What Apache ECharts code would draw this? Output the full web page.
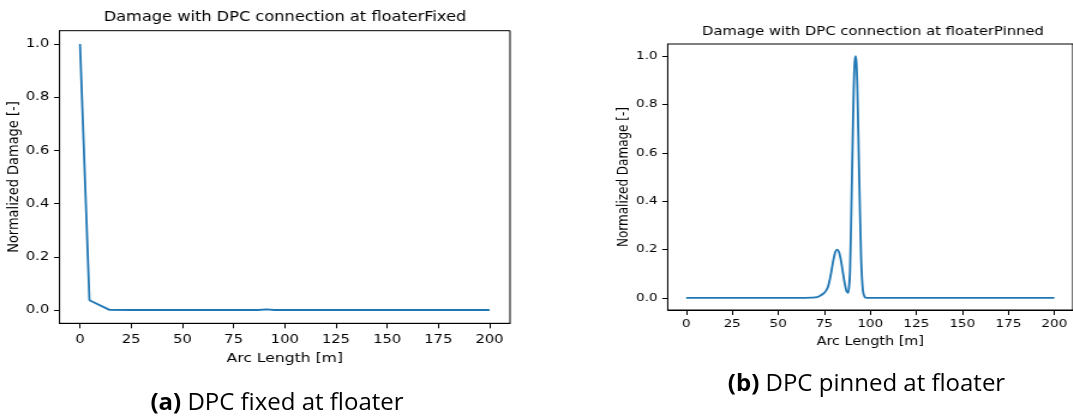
<!DOCTYPE html>
<html>
<head>
<meta charset="utf-8">
<script src="https://cdn.jsdelivr.net/npm/echarts@6/dist/echarts.min.js"></script>
<style>
  html, body { margin: 0; padding: 0; background: #fff; overflow: hidden; }
  #wrap { position: relative; width: 1073px; height: 417px; }
  /* the two panels are drawn on a narrower canvas and widened horizontally */
  #plots { position: absolute; left: 0; top: 0; width: 894.17px; height: 417px;
           transform: scaleX(1.2); transform-origin: 0 0; }
  #captions { position: absolute; left: 0; top: 0; width: 1073px; height: 417px; pointer-events: none; }
</style>
</head>
<body>
<div id="wrap">
  <div id="plots"></div>
  <div id="captions"></div>
</div>
<script>
// Damage along the line, DPC fixed at the floater
const fixedArc    = [0, 4.6, 14.4, 25, 50, 75, 87, 91, 95, 100, 125, 150, 175, 200];
const fixedDamage = [1.0, 0.037, 0.0004, 0, 0, 0, 0, 0.002, 0, 0, 0, 0, 0, 0];

// Damage along the line, DPC pinned at the floater
const pinnedArc = [0, 10, 20, 30, 40, 50, 60, 65, 68,
  70, 71, 72, 73, 74, 75, 76, 77, 78, 79, 80, 81, 82, 83, 84, 85, 86, 87, 88, 89, 90, 91,
  91.5, 92, 92.5, 93, 94, 95, 96, 97, 98, 100,
  110, 120, 130, 140, 150, 160, 170, 180, 190, 200];
const pinnedDamage = [0, 0, 0, 0, 0, 0, 0.0002, 0.0005, 0.001,
  0.002, 0.003, 0.006, 0.01, 0.015, 0.021, 0.03, 0.045, 0.075, 0.115, 0.158, 0.19, 0.2, 0.19, 0.158, 0.112, 0.065, 0.03, 0.02, 0.11, 0.48, 0.86,
  0.97, 1.0, 0.97, 0.86, 0.5, 0.17, 0.03, 0.003, 0.0005, 0,
  0, 0, 0, 0, 0, 0, 0, 0, 0, 0];

// Tick values
const arcTicks = [0, 25, 50, 75, 100, 125, 150, 175, 200];
const damageTicks = [0, 0.2, 0.4, 0.6, 0.8, 1.0];

const titles = ['Damage with DPC connection at floaterFixed', 'Damage with DPC connection at floaterPinned'];
const captions = ['DPC fixed at floater', 'DPC pinned at floater'];
const captionTags = ['(a)', '(b)'];

const SX = 1.2;            // horizontal widening of the plot canvas
const FONT = 'DejaVu Sans';
const LINE = '#1f77b4';

function zip(xs, ys) { return xs.map((x, i) => [x, ys[i]]); }

// panel geometry in screen pixels
const panels = [
  { left: 59.5, top: 30.7, width: 450.5, height: 292.6, fs: 12.3, ts: 13.5, ns: 13,
    titleX: 285, titleY: 17, yGap: 29, xGap: 29, yMargin: 8.5, xMargin: 10.5 },
  { left: 667.7, top: 44, width: 410.3, height: 266, fs: 11.3, ts: 12.3, ns: 12,
    titleX: 872.9, titleY: 32, yGap: 25.5, xGap: 25.5, yMargin: 8.5, xMargin: 9 }
];

const grid = [], xAxis = [], yAxis = [], graphic = [];
panels.forEach((p, i) => {
  grid.push({
    left: p.left / SX, top: p.top, width: p.width / SX, height: p.height,
    show: true, borderColor: '#000', borderWidth: 1, backgroundColor: 'transparent',
    containLabel: false
  });
  xAxis.push({
    type: 'value', gridIndex: i, min: -10, max: 210, position: 'bottom',
    axisLine: { show: true, onZero: false, lineStyle: { color: '#000', width: 1 } },
    axisTick: { show: true, inside: false, length: 5, customValues: arcTicks, lineStyle: { color: '#000', width: 1 } },
    axisLabel: { customValues: arcTicks, color: '#000', fontFamily: FONT, fontSize: p.fs, margin: p.xMargin,
                 formatter: v => String(v) },
    splitLine: { show: false },
    name: 'Arc Length [m]', nameLocation: 'middle', nameGap: p.xGap,
    nameTextStyle: { color: '#000', fontFamily: FONT, fontSize: p.ns }
  });
  yAxis.push({
    type: 'value', gridIndex: i, min: -0.05, max: 1.05, position: 'left',
    axisLine: { show: true, onZero: false, lineStyle: { color: '#000', width: 1 } },
    axisTick: { show: true, inside: false, length: 4.5, customValues: damageTicks, lineStyle: { color: '#000', width: 1 } },
    axisLabel: { customValues: damageTicks, color: '#000', fontFamily: FONT, fontSize: p.fs, margin: p.yMargin,
                 formatter: v => v.toFixed(1) },
    splitLine: { show: false },
    name: 'Normalized Damage [-]', nameLocation: 'middle', nameGap: p.yGap, nameRotate: 90,
    nameTextStyle: { color: '#000', fontFamily: FONT, fontSize: p.ns }
  });
  graphic.push({
    type: 'text', x: p.titleX / SX, y: p.titleY, silent: true,
    style: { text: titles[i], fill: '#000', fontFamily: FONT, fontSize: p.ts, align: 'center', verticalAlign: 'middle' }
  });
});

const series = [
  { type: 'line', xAxisIndex: 0, yAxisIndex: 0, data: zip(fixedArc, fixedDamage), smooth: false },
  { type: 'line', xAxisIndex: 1, yAxisIndex: 1, data: zip(pinnedArc, pinnedDamage), smooth: 0.2 }
].map(s => Object.assign(s, {
  symbol: 'none', clip: true,
  lineStyle: { color: LINE, width: 1.8 }, itemStyle: { color: LINE }
}));

const plots = echarts.init(document.getElementById('plots'), null, { renderer: 'canvas' });
plots.setOption({
  animation: false,
  backgroundColor: '#fff',
  grid, xAxis, yAxis, series, graphic
});

// sub-figure captions
const capPos = [[277, 403], [866.5, 384]];
const capChart = echarts.init(document.getElementById('captions'), null, { renderer: 'canvas' });
capChart.setOption({
  animation: false,
  graphic: captions.map((c, i) => ({
    type: 'text', x: capPos[i][0], y: capPos[i][1], silent: true,
    style: {
      text: '{b|' + captionTags[i] + '} ' + c,
      fill: '#000', fontFamily: 'Open Sans', fontSize: 24, align: 'center', verticalAlign: 'middle',
      rich: { b: { fontFamily: 'Open Sans', fontSize: 24, fontWeight: 'bold', fill: '#000' } }
    }
  }))
});
</script>
</body>
</html>
